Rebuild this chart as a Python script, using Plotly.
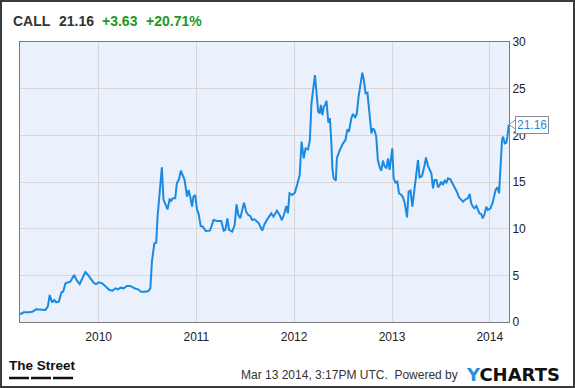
import plotly.graph_objects as go

# ---- data ----
dates = [
    "2009-03-13", "2009-03-27", "2009-04-15", "2009-04-28", "2009-05-12", "2009-05-29",
    "2009-06-16", "2009-06-25", "2009-07-02", "2009-07-11", "2009-07-19", "2009-07-26",
    "2009-08-05", "2009-08-15", "2009-08-21", "2009-08-30", "2009-09-09", "2009-09-17",
    "2009-10-01", "2009-10-12", "2009-10-22", "2009-10-31", "2009-11-12", "2009-11-22",
    "2009-12-01", "2009-12-13", "2009-12-22", "2010-01-02",
    "2010-01-14", "2010-01-26", "2010-02-10", "2010-02-22", "2010-03-04", "2010-03-14",
    "2010-03-24", "2010-04-04", "2010-04-17", "2010-04-29", "2010-05-15", "2010-05-28",
    "2010-06-08", "2010-06-24", "2010-07-06", "2010-07-13", "2010-07-19", "2010-07-28",
    "2010-08-04", "2010-08-09", "2010-08-15", "2010-08-25", "2010-08-31", "2010-09-07",
    "2010-09-15", "2010-09-23", "2010-09-29", "2010-10-05", "2010-10-14", "2010-10-20",
    "2010-10-28", "2010-11-04", "2010-11-12", "2010-11-18", "2010-11-27", "2010-12-03",
    "2010-12-09", "2010-12-16", "2010-12-21", "2010-12-28",
    "2011-01-03", "2011-01-09", "2011-01-17", "2011-01-25", "2011-02-05", "2011-02-20",
    "2011-02-26", "2011-03-06", "2011-03-19", "2011-04-04", "2011-04-13", "2011-04-19",
    "2011-04-27", "2011-05-03", "2011-05-15", "2011-05-24", "2011-05-31", "2011-06-07",
    "2011-06-14", "2011-06-20", "2011-06-28", "2011-07-06", "2011-07-14", "2011-07-21",
    "2011-07-29", "2011-08-06", "2011-08-22", "2011-09-04", "2011-09-13", "2011-09-25",
    "2011-10-08", "2011-10-16", "2011-10-29", "2011-11-08", "2011-11-16", "2011-11-24",
    "2011-12-03", "2011-12-09", "2011-12-15", "2011-12-25",
    "2012-01-04", "2012-01-14", "2012-01-22", "2012-01-29", "2012-02-06", "2012-02-13",
    "2012-02-22", "2012-02-29", "2012-03-06", "2012-03-12", "2012-03-19", "2012-03-25",
    "2012-03-31", "2012-04-06", "2012-04-10", "2012-04-16", "2012-04-21", "2012-04-26",
    "2012-05-01", "2012-05-08", "2012-05-14", "2012-05-20", "2012-05-23", "2012-05-28",
    "2012-06-05", "2012-06-09", "2012-06-20", "2012-07-02", "2012-07-11", "2012-07-18",
    "2012-07-24", "2012-08-02", "2012-08-08", "2012-08-16", "2012-08-22", "2012-08-29",
    "2012-09-06", "2012-09-12", "2012-09-18", "2012-09-24", "2012-10-01", "2012-10-07",
    "2012-10-16", "2012-10-22", "2012-10-28", "2012-11-03", "2012-11-09", "2012-11-16",
    "2012-11-22", "2012-11-28", "2012-12-04", "2012-12-11", "2012-12-17", "2012-12-23",
    "2013-01-02", "2013-01-07", "2013-01-14", "2013-01-21", "2013-01-27", "2013-02-05",
    "2013-02-11", "2013-02-17", "2013-02-26", "2013-03-04", "2013-03-11", "2013-03-18",
    "2013-03-27", "2013-04-02", "2013-04-08", "2013-04-14", "2013-04-23", "2013-05-02",
    "2013-05-08", "2013-05-15", "2013-05-22", "2013-05-28", "2013-06-03", "2013-06-09",
    "2013-06-16", "2013-06-22", "2013-06-28", "2013-07-04", "2013-07-10", "2013-07-17",
    "2013-07-23", "2013-07-29", "2013-08-07", "2013-08-14", "2013-08-23", "2013-08-31",
    "2013-09-08", "2013-09-17", "2013-09-23", "2013-10-03", "2013-10-11", "2013-10-18",
    "2013-10-24", "2013-10-30", "2013-11-05", "2013-11-12", "2013-11-18", "2013-11-24",
    "2013-11-30", "2013-12-06", "2013-12-13", "2013-12-19", "2013-12-25",
    "2014-01-04", "2014-01-11", "2014-01-17", "2014-01-23", "2014-01-30", "2014-02-05",
    "2014-02-10", "2014-02-16", "2014-02-20", "2014-02-26", "2014-03-04", "2014-03-08",
    "2014-03-13",
]
prices = [
    0.83, 1.04, 1.04, 1.10, 1.36, 1.36,
    1.29, 1.64, 2.89, 2.10, 2.36, 2.10,
    2.18, 3.18, 3.25, 4.14, 4.21, 4.32,
    5.04, 4.43, 4.07, 4.68, 5.36, 5.04,
    4.68, 4.21, 4.07, 4.25,
    4.14, 3.86, 3.43, 3.36, 3.61, 3.50,
    3.68, 3.61, 3.86, 3.86, 3.61, 3.50,
    3.25, 3.25, 3.32, 3.61, 6.50, 8.43,
    8.50, 11.30, 13.40, 16.57, 13.14, 12.70,
    12.07, 13.14, 13.00, 13.25, 13.25, 14.86,
    15.29, 16.21, 15.50, 15.21, 13.43, 14.14,
    13.43, 12.36, 13.43, 13.60,
    12.07, 11.64, 10.29, 10.21, 9.75, 9.79,
    10.21, 10.93, 10.82, 10.82, 9.79, 9.86,
    11.11, 9.86, 9.68, 10.39, 12.61, 11.46,
    11.11, 12.00, 12.79, 11.82, 11.46, 11.36,
    10.93, 11.00, 10.60, 9.79, 10.50, 11.11,
    11.64, 11.29, 11.93, 11.46, 10.93, 11.46,
    12.43, 11.64, 13.79, 13.60,
    13.86, 14.86, 15.75, 19.32, 17.54, 18.61,
    18.50, 19.50, 23.43, 24.86, 26.46, 24.50,
    22.54, 22.36, 23.25, 22.18, 23.07, 23.25,
    23.71, 21.36, 21.82, 18.79, 16.46, 15.39,
    15.14, 17.54, 18.43, 19.14, 19.50, 20.64,
    20.39, 21.82, 22.29, 21.93, 22.25, 24.14,
    25.57, 26.71, 25.86, 24.50, 24.57, 22.71,
    20.21, 20.75, 20.50, 19.86, 17.36, 16.57,
    16.21, 17.29, 16.71, 16.46, 17.54, 16.29,
    18.61, 15.39, 14.93, 15.04, 13.79, 13.60,
    13.36, 12.79, 11.21, 13.96, 14.07, 12.36,
    14.57, 15.93, 17.36, 15.50, 15.64, 16.71,
    17.64, 16.71, 16.20, 15.93, 14.32, 15.21,
    15.21, 14.43, 14.68, 15.04, 14.68, 15.21,
    14.86, 15.39, 15.29, 14.93, 14.32, 13.96,
    13.36, 13.14, 12.89, 13.14, 13.25, 13.71,
    12.71, 12.36, 12.18, 12.43, 12.07, 11.64,
    11.57, 11.11, 11.57, 12.36, 12.00,
    12.18, 12.71, 13.60, 14.14, 14.43, 13.79,
    16.46, 19.50, 19.86, 19.14, 19.21, 19.86,
    21.16,
]
year_ticks = ["2010-01-01", "2011-01-01", "2012-01-01", "2013-01-01", "2014-01-01"]
year_labels = ["2010", "2011", "2012", "2013", "2014"]
y_ticks = [0, 5, 10, 15, 20, 25, 30]
x_range = ["2009-03-13", "2014-03-14"]
y_range = [0, 30]

ticker = "CALL"
last_price = "21.16"
change = "+3.63"
change_pct = "+20.71%"
timestamp = "Mar 13 2014, 3:17PM UTC."

# ---- layout geometry ----
W, H = 575, 388
L, R, T, B = 20, 66, 42, 66
PW, PH = W - L - R, H - T - B


def px(x):
    return (x - L) / PW


def py(y):
    return (H - B - y) / PH


FONT = "Liberation Sans, Arial, sans-serif"
LINE_BLUE = "#1a8ae2"

fig = go.Figure()
fig.add_trace(go.Scatter(
    x=dates, y=prices, mode="lines",
    line=dict(color=LINE_BLUE, width=2),
    hoverinfo="skip", showlegend=False,
))

fig.update_layout(
    width=W, height=H,
    margin=dict(l=L, r=R, t=T, b=B, pad=0),
    paper_bgcolor="white",
    plot_bgcolor="#eaf1fc",
    font=dict(family=FONT, size=12, color="#222"),
    showlegend=False,
    xaxis=dict(
        type="date", range=x_range,
        tickvals=year_ticks, ticktext=year_labels,
        showgrid=True, gridcolor="#d6d6d6", gridwidth=1,
        showline=True, linecolor="#7a7a7a", linewidth=1, mirror=True,
        ticks="", zeroline=False, ticklabelstandoff=4,
        tickfont=dict(family=FONT, size=12, color="#222"),
        fixedrange=True,
    ),
    yaxis=dict(
        side="right", range=y_range,
        tickvals=y_ticks,
        showgrid=True, gridcolor="#d6d6d6", gridwidth=1,
        showline=True, linecolor="#7a7a7a", linewidth=1, mirror=True,
        ticks="", zeroline=False,
        tickfont=dict(family=FONT, size=12, color="#222"),
        fixedrange=True,
    ),
)

ann = []
# header
hdr_y = py(20.5)
ann.append(dict(text="<b>%s</b>" % ticker, x=px(11), y=hdr_y, font=dict(size=14, color="#333")))
ann.append(dict(text="<b>%s</b>" % last_price, x=px(56.5), y=hdr_y, font=dict(size=14, color="#333")))
ann.append(dict(text="<b>%s</b>" % change, x=px(100), y=hdr_y, font=dict(size=14, color="#1c9a1c")))
ann.append(dict(text="<b>%s</b>" % change_pct, x=px(144), y=hdr_y, font=dict(size=14, color="#1c9a1c")))
# footer
ann.append(dict(text="<b>The Street</b>", x=px(7), y=py(365.5),
                font=dict(size=13.5, color="#111", family=FONT)))
ann.append(dict(text="%s  Powered by" % timestamp, x=px(460), y=py(375), xanchor="right",
                font=dict(size=12, color="#333")))
ann.append(dict(text="<span style='color:#2a8fdb'>Y</span>CHARTS", x=px(464), y=py(374),
                font=dict(size=18, color="#111", family="DejaVu Sans, sans-serif", weight="bold")))

for a in ann:
    a.setdefault("xanchor", "left")
    a.update(xref="paper", yref="paper", yanchor="middle", showarrow=False)
    fig.add_annotation(**a)

# last-value callout
fig.add_annotation(
    text=last_price, xref="paper", x=1, yref="y", y=prices[-1],
    xanchor="left", yanchor="middle", xshift=6, showarrow=False,
    font=dict(size=12, color=LINE_BLUE, family=FONT),
    bgcolor="white", bordercolor="#8a8a8a", borderwidth=1, borderpad=1,
)
fig.add_shape(
    type="path", xref="paper", yref="paper",
    xsizemode="pixel", ysizemode="pixel",
    xanchor=1, yanchor=prices[-1] / y_range[1],
    path="M 0 0 L 7 5 L 7 -5 Z",
    fillcolor="white", line=dict(color="#8a8a8a", width=1), layer="above",
)

# The Street underline dashes
for x0, x1 in [(9, 29), (31, 51), (53, 73)]:
    fig.add_shape(type="line", xref="paper", yref="paper",
                  x0=px(x0), x1=px(x1), y0=py(378), y1=py(378),
                  line=dict(color="#111", width=2.5))

# outer frame
fig.add_shape(type="rect", xref="paper", yref="paper",
              x0=px(1), x1=px(W - 1), y0=py(H - 1), y1=py(1),
              line=dict(color="#3a3a3a", width=2), layer="above")

fig.write_html(
    "out.html",
    config={"displayModeBar": False, "staticPlot": True},
    post_script="document.body.style.margin='0';document.body.style.overflow='hidden';",
)
